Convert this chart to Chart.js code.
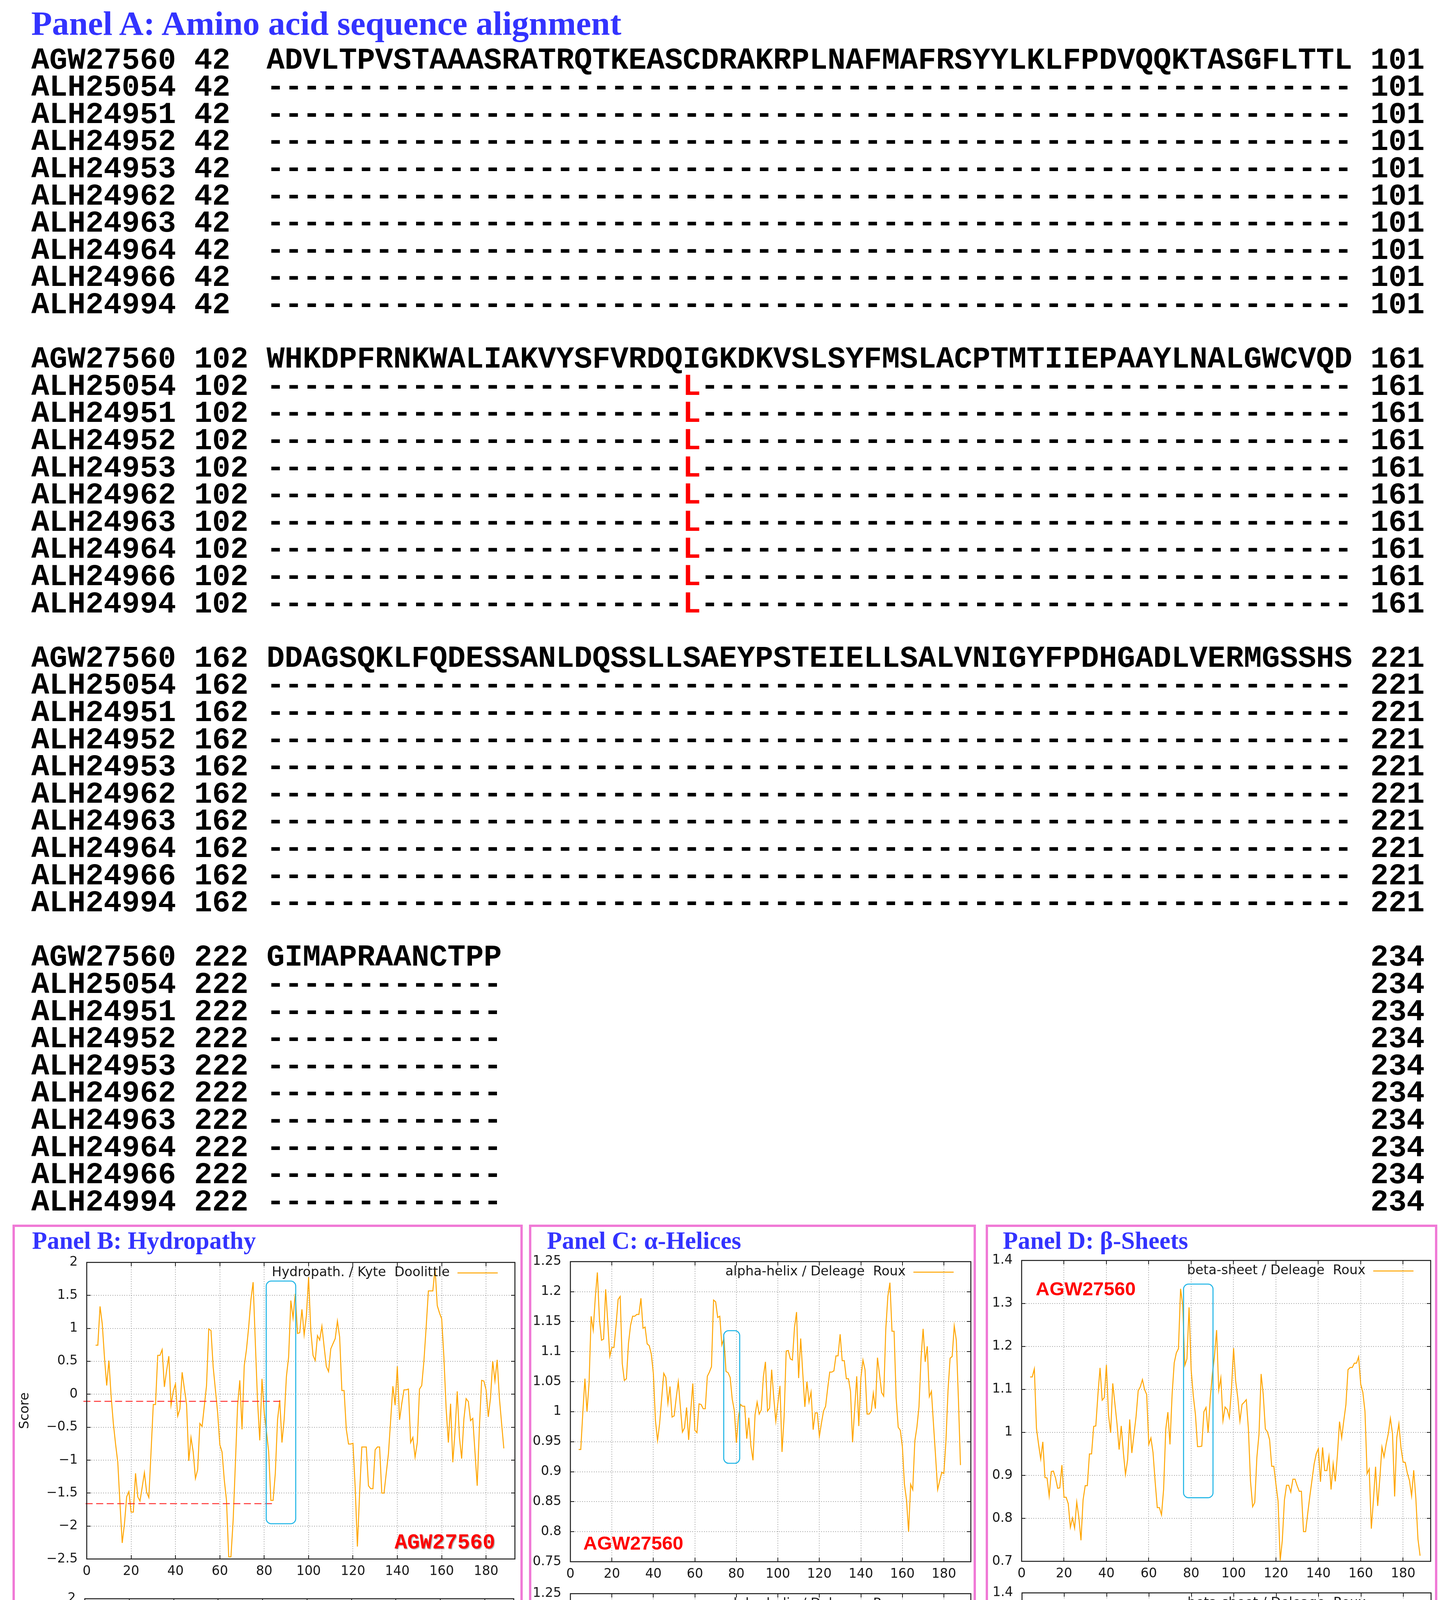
<!DOCTYPE html>
<html>
<head>
<meta charset="utf-8">
<script src="https://cdn.jsdelivr.net/npm/chart.js@4.4.1/dist/chart.umd.min.js"></script>
<style>
  html, body { margin: 0; padding: 0; background: #fff; }
  body { width: 3691px; height: 4986px; position: relative; overflow: hidden; }
  .txt { position: absolute; white-space: pre; margin: 0; line-height: 1; }
  .panel { position: absolute; box-sizing: border-box; border: 6px solid #f07ad6; }
  canvas { position: absolute; }
</style>
</head>
<body>
<script>
// ---------------------------------------------------------------------------
// Panel A: alignment text
// ---------------------------------------------------------------------------
const alnNames = ['AGW27560', 'ALH25054', 'ALH24951', 'ALH24952', 'ALH24953',
                  'ALH24962', 'ALH24963', 'ALH24964', 'ALH24966', 'ALH24994'];
const alnStarts = [42, 102, 162, 222];
const alnEnds = [101, 161, 221, 234];
const refBlocks = [
    'ADVLTPVSTAAASRATRQTKEASCDRAKRPLNAFMAFRSYYLKLFPDVQQKTASGFLTTL',
    'WHKDPFRNKWALIAKVYSFVRDQIGKDKVSLSYFMSLACPTMTIIEPAAYLNALGWCVQD',
    'DDAGSQKLFQDESSANLDQSSLLSAEYPSTEIELLSALVNIGYFPDHGADLVERMGSSHS',
    'GIMAPRAANCTPP'
];
// the one substitution shared by all ALH sequences (block 2, column 24)
const variantSite = { block: 1, col: 23, residue: 'L' };

// ---------------------------------------------------------------------------
// Profile values (window 9); first point sits at position 4
// ---------------------------------------------------------------------------
const FIRST_POS = 4;

const hydroAGW = [
    0.744, 0.744, 1.333, 1.067, 0.556, 0.133, 0.511, -0.033, -0.444, -0.756,
    -1.033, -1.667, -2.256, -1.967, -1.556, -1.478, -1.789, -1.789, -1.2, -1.556,
    -1.622, -1.411, -1.189, -1.489, -1.567, -0.867, -0.156, -0.156, 0.589, 0.589,
    0.678, 0.111, 0.356, 0.578, -0.167, 0.044, 0.156, -0.333, -0.222, 0.333,
    0.089, -0.156, -1.011, -0.656, -0.878, -1.278, -1.144, -0.444, -0.489, -0.178,
    0.133, 0.989, 0.967, 0.411, 0.067, -0.278, -0.767, -0.878, -1.3, -1.611,
    -2.467, -2.467, -1.911, -1.056, -0.167, 0.211, -0.533, 0.433, 0.678, 1.022,
    1.433, 1.7, 0.778, -0.111, -0.7, 0.233, -0.278, -0.567, -0.867, -1.611,
    -1.611, -1.2, -0.389, -0.089, -0.733, -0.378, 0.267, 0.567, 1.422, 1.156,
    1.522, 0.922, 0.933, 1.289, 0.9, 1.189, 1.778, 0.967, 0.589, 0.511,
    0.889, 0.822, 1.033, 0.722, 0.422, 0.344, 0.689, 0.767, 0.844, 1.111,
    0.867, 0.056, 0.056, -0.533, -0.756, -0.756, -0.744, -1.411, -2.311, -1.5,
    -0.8, -0.8, -0.8, -1.389, -1.433, -1.433, -0.844, -0.8, -0.8, -1.5,
    -1.5, -1.2, -0.9, -0.389, 0.122, -0.167, 0.422, -0.389, -0.144, 0.067,
    0.067, 0.078, -0.733, -0.656, -0.956, -0.733, 0.078, 0.133, 0.511, 1.022,
    1.567, 1.567, 1.567, 1.911, 1.344, 1.233, 1.144, 0.556, -0.222, -0.733,
    -0.144, -1.033, -0.567, 0.044, -0.656, -0.978, -0.378, -0.067, -0.111, -0.4,
    -0.367, -0.878, -1.389, -0.5, 0.211, 0.2, 0.067, -0.344, -0.056, 0.5,
    0.2, 0.522, -0.056, -0.444, -0.822
];
const hydroALH = [
    0.744, 0.744, 1.333, 1.067, 0.556, 0.133, 0.511, -0.033, -0.444, -0.756,
    -1.033, -1.667, -2.256, -1.967, -1.556, -1.478, -1.789, -1.789, -1.2, -1.556,
    -1.622, -1.411, -1.189, -1.489, -1.567, -0.867, -0.156, -0.156, 0.589, 0.589,
    0.678, 0.111, 0.356, 0.578, -0.167, 0.044, 0.156, -0.333, -0.222, 0.333,
    0.089, -0.156, -1.011, -0.656, -0.878, -1.278, -1.144, -0.444, -0.489, -0.178,
    0.133, 0.989, 0.967, 0.411, 0.067, -0.278, -0.767, -0.878, -1.3, -1.611,
    -2.467, -2.467, -1.911, -1.056, -0.167, 0.211, -0.533, 0.433, 0.678, 1.022,
    1.433, 1.7, 0.778, -0.111, -0.7, 0.156, -0.356, -0.644, -0.944, -1.689,
    -1.689, -1.278, -0.467, -0.167, -0.733, -0.378, 0.267, 0.567, 1.422, 1.156,
    1.522, 0.922, 0.933, 1.289, 0.9, 1.189, 1.778, 0.967, 0.589, 0.511,
    0.889, 0.822, 1.033, 0.722, 0.422, 0.344, 0.689, 0.767, 0.844, 1.111,
    0.867, 0.056, 0.056, -0.533, -0.756, -0.756, -0.744, -1.411, -2.311, -1.5,
    -0.8, -0.8, -0.8, -1.389, -1.433, -1.433, -0.844, -0.8, -0.8, -1.5,
    -1.5, -1.2, -0.9, -0.389, 0.122, -0.167, 0.422, -0.389, -0.144, 0.067,
    0.067, 0.078, -0.733, -0.656, -0.956, -0.733, 0.078, 0.133, 0.511, 1.022,
    1.567, 1.567, 1.567, 1.911, 1.344, 1.233, 1.144, 0.556, -0.222, -0.733,
    -0.144, -1.033, -0.567, 0.044, -0.656, -0.978, -0.378, -0.067, -0.111, -0.4,
    -0.367, -0.878, -1.389, -0.5, 0.211, 0.2, 0.067, -0.344, -0.056, 0.5,
    0.2, 0.522, -0.056, -0.444, -0.822
];

const helixAGW = [
    0.937, 0.937, 0.999, 1.055, 1.000, 1.048, 1.159, 1.136, 1.190, 1.232,
    1.154, 1.119, 1.121, 1.204, 1.150, 1.092, 1.107, 1.107, 1.144, 1.187,
    1.192, 1.080, 1.052, 1.055, 1.114, 1.144, 1.159, 1.159, 1.162, 1.162,
    1.189, 1.139, 1.141, 1.113, 1.110, 1.096, 1.063, 0.985, 0.952, 0.980,
    1.022, 1.064, 1.057, 1.014, 1.042, 0.991, 0.993, 1.023, 1.050, 1.008,
    0.966, 0.973, 1.007, 0.953, 1.001, 1.047, 0.969, 0.965, 1.013, 1.012,
    1.005, 1.005, 1.059, 1.066, 1.075, 1.186, 1.183, 1.157, 1.159, 1.111,
    1.122, 1.067, 1.065, 1.057, 1.021, 1.002, 0.948, 0.991, 1.012, 1.009,
    1.009, 0.955, 0.990, 0.943, 0.919, 0.995, 1.016, 0.996, 1.003, 1.058,
    1.083, 1.001, 1.006, 1.070, 1.024, 0.984, 1.014, 1.043, 0.933, 0.991,
    1.101, 1.102, 1.088, 1.086, 1.140, 1.166, 1.056, 1.122, 1.064, 1.008,
    1.050, 1.016, 1.033, 0.970, 0.998, 0.998, 0.959, 0.981, 1.001, 1.009,
    1.039, 1.066, 1.066, 1.068, 1.093, 1.093, 1.129, 1.085, 1.085, 1.055,
    1.055, 1.034, 0.949, 1.004, 1.059, 0.976, 1.056, 1.086, 1.070, 0.996,
    0.996, 1.001, 1.031, 1.005, 1.090, 1.062, 1.032, 1.026, 1.137, 1.192,
    1.215, 1.134, 1.134, 1.023, 0.974, 0.969, 0.942, 0.879, 0.853, 0.800,
    0.879, 0.870, 0.951, 0.974, 1.008, 1.089, 1.138, 1.083, 1.109, 1.025,
    1.034, 0.979, 0.926, 0.870, 0.885, 0.899, 0.897, 0.951, 1.035, 1.089,
    1.092, 1.143, 1.119, 1.022, 0.911
];
const helixALH = [
    0.937, 0.937, 0.999, 1.055, 1.000, 1.048, 1.159, 1.136, 1.190, 1.232,
    1.154, 1.119, 1.121, 1.204, 1.150, 1.092, 1.107, 1.107, 1.144, 1.187,
    1.192, 1.080, 1.052, 1.055, 1.114, 1.144, 1.159, 1.159, 1.162, 1.162,
    1.189, 1.139, 1.141, 1.113, 1.110, 1.096, 1.063, 0.985, 0.952, 0.980,
    1.022, 1.064, 1.057, 1.014, 1.042, 0.991, 0.993, 1.023, 1.050, 1.008,
    0.966, 0.973, 1.007, 0.953, 1.001, 1.047, 0.969, 0.965, 1.013, 1.012,
    1.005, 1.005, 1.059, 1.066, 1.075, 1.186, 1.183, 1.157, 1.159, 1.111,
    1.122, 1.067, 1.065, 1.057, 1.021, 1.028, 0.974, 1.017, 1.038, 1.035,
    1.035, 0.981, 1.016, 0.969, 0.919, 0.995, 1.016, 0.996, 1.003, 1.058,
    1.083, 1.001, 1.006, 1.070, 1.024, 0.984, 1.014, 1.043, 0.933, 0.991,
    1.101, 1.102, 1.088, 1.086, 1.140, 1.166, 1.056, 1.122, 1.064, 1.008,
    1.050, 1.016, 1.033, 0.970, 0.998, 0.998, 0.959, 0.981, 1.001, 1.009,
    1.039, 1.066, 1.066, 1.068, 1.093, 1.093, 1.129, 1.085, 1.085, 1.055,
    1.055, 1.034, 0.949, 1.004, 1.059, 0.976, 1.056, 1.086, 1.070, 0.996,
    0.996, 1.001, 1.031, 1.005, 1.090, 1.062, 1.032, 1.026, 1.137, 1.192,
    1.215, 1.134, 1.134, 1.023, 0.974, 0.969, 0.942, 0.879, 0.853, 0.800,
    0.879, 0.870, 0.951, 0.974, 1.008, 1.089, 1.138, 1.083, 1.109, 1.025,
    1.034, 0.979, 0.926, 0.870, 0.885, 0.899, 0.897, 0.951, 1.035, 1.089,
    1.092, 1.143, 1.119, 1.022, 0.911
];

const sheetAGW = [
    1.129, 1.129, 1.148, 1.009, 0.972, 0.938, 0.978, 0.895, 0.894, 0.852,
    0.909, 0.910, 0.894, 0.870, 0.871, 0.924, 0.849, 0.849, 0.834, 0.779,
    0.801, 0.777, 0.838, 0.802, 0.749, 0.843, 0.876, 0.876, 0.950, 0.950,
    1.014, 1.015, 1.088, 1.150, 1.075, 1.081, 1.157, 1.041, 0.999, 1.114,
    1.067, 1.020, 0.960, 1.015, 0.954, 0.902, 0.936, 1.030, 0.952, 0.995,
    1.037, 1.097, 1.106, 1.123, 1.100, 1.088, 0.972, 0.987, 0.953, 0.885,
    0.825, 0.825, 0.808, 0.868, 1.007, 1.047, 0.972, 1.088, 1.162, 1.185,
    1.195, 1.334, 1.296, 1.156, 1.171, 1.291, 1.145, 1.085, 1.042, 0.967,
    0.967, 0.968, 1.048, 1.058, 0.999, 1.080, 1.135, 1.178, 1.238, 1.098,
    1.127, 1.027, 1.059, 1.053, 1.034, 1.099, 1.196, 1.119, 1.080, 1.026,
    1.065, 1.070, 1.076, 1.008, 0.886, 0.827, 0.837, 0.942, 0.996, 1.136,
    1.088, 1.008, 1.001, 0.983, 0.921, 0.921, 0.879, 0.840, 0.702, 0.749,
    0.843, 0.877, 0.877, 0.861, 0.891, 0.891, 0.876, 0.863, 0.863, 0.769,
    0.769, 0.812, 0.852, 0.889, 0.926, 0.950, 0.962, 0.885, 0.965, 0.911,
    0.911, 0.944, 0.867, 0.927, 0.886, 0.948, 1.025, 0.987, 1.027, 1.064,
    1.146, 1.151, 1.151, 1.161, 1.161, 1.176, 1.112, 1.093, 1.049, 0.904,
    0.915, 0.776, 0.843, 0.920, 0.829, 0.892, 0.966, 0.943, 0.973, 0.997,
    1.033, 0.996, 0.851, 0.988, 1.020, 0.964, 0.931, 0.930, 0.905, 0.888,
    0.852, 0.912, 0.847, 0.752, 0.713
];
const sheetALH = [
    1.129, 1.129, 1.148, 1.009, 0.972, 0.938, 0.978, 0.895, 0.894, 0.852,
    0.909, 0.910, 0.894, 0.870, 0.871, 0.924, 0.849, 0.849, 0.834, 0.779,
    0.801, 0.777, 0.838, 0.802, 0.749, 0.843, 0.876, 0.876, 0.950, 0.950,
    1.014, 1.015, 1.088, 1.150, 1.075, 1.081, 1.157, 1.041, 0.999, 1.114,
    1.067, 1.020, 0.960, 1.015, 0.954, 0.902, 0.936, 1.030, 0.952, 0.995,
    1.037, 1.097, 1.106, 1.123, 1.100, 1.088, 0.972, 0.987, 0.953, 0.885,
    0.825, 0.825, 0.808, 0.868, 1.007, 1.047, 0.972, 1.088, 1.162, 1.185,
    1.195, 1.334, 1.296, 1.156, 1.171, 1.231, 1.086, 1.025, 0.982, 0.907,
    0.907, 0.908, 0.988, 0.998, 0.999, 1.080, 1.135, 1.178, 1.238, 1.098,
    1.127, 1.027, 1.059, 1.053, 1.034, 1.099, 1.196, 1.119, 1.080, 1.026,
    1.065, 1.070, 1.076, 1.008, 0.886, 0.827, 0.837, 0.942, 0.996, 1.136,
    1.088, 1.008, 1.001, 0.983, 0.921, 0.921, 0.879, 0.840, 0.702, 0.749,
    0.843, 0.877, 0.877, 0.861, 0.891, 0.891, 0.876, 0.863, 0.863, 0.769,
    0.769, 0.812, 0.852, 0.889, 0.926, 0.950, 0.962, 0.885, 0.965, 0.911,
    0.911, 0.944, 0.867, 0.927, 0.886, 0.948, 1.025, 0.987, 1.027, 1.064,
    1.146, 1.151, 1.151, 1.161, 1.161, 1.176, 1.112, 1.093, 1.049, 0.904,
    0.915, 0.776, 0.843, 0.920, 0.829, 0.892, 0.966, 0.943, 0.973, 0.997,
    1.033, 0.996, 0.851, 0.988, 1.020, 0.964, 0.931, 0.930, 0.905, 0.888,
    0.852, 0.912, 0.847, 0.752, 0.713
];

// ---------------------------------------------------------------------------
// Tick values and labels
// ---------------------------------------------------------------------------
const xTicks = [0, 20, 40, 60, 80, 100, 120, 140, 160, 180];
const xTickLabels = ['0', '20', '40', '60', '80', '100', '120', '140', '160', '180'];
const hydroTicks = [-2.5, -2, -1.5, -1, -0.5, 0, 0.5, 1, 1.5, 2];
const hydroTickLabels = ['\u22122.5', '\u22122', '\u22121.5', '\u22121', '\u22120.5', '0', '0.5', '1', '1.5', '2'];
const helixTicks = [0.75, 0.8, 0.85, 0.9, 0.95, 1, 1.05, 1.1, 1.15, 1.2, 1.25];
const helixTickLabels = ['0.75', '0.8', '0.85', '0.9', '0.95', '1', '1.05', '1.1', '1.15', '1.2', '1.25'];
const sheetTicks = [0.7, 0.8, 0.9, 1, 1.1, 1.2, 1.3, 1.4];
const sheetTickLabels = ['0.7', '0.8', '0.9', '1', '1.1', '1.2', '1.3', '1.4'];

// ---------------------------------------------------------------------------
// Styling / layout
// ---------------------------------------------------------------------------
const BLUE = '#3333ff';
const RED = '#ff0000';
const LINE_COLOR = '#ffa500';
const GRID_COLOR = '#a3a3a3';
const BOX_COLOR = '#1cb4e6';
const AXIS_FONT = '"DejaVu Sans", "Liberation Sans", sans-serif';
const MONO = '"Courier New", "Liberation Mono", monospace';
const SERIF = '"Times New Roman", "Liberation Serif", serif';
const SANS = 'Arial, "Liberation Sans", sans-serif';

const AXIS_W = 200;   // room left of the plot (tick labels + "Score")
const AXIS_H = 110;   // room below the plot (tick labels + "Position")
const PAD_T = 40;
const PAD_R = 28;

const yScales = {
    hydro: { min: -2.5, max: 2, ticks: hydroTicks, labels: hydroTickLabels },
    helix: { min: 0.75, max: 1.25, ticks: helixTicks, labels: helixTickLabels },
    sheet: { min: 0.7, max: 1.4, ticks: sheetTicks, labels: sheetTickLabels }
};

const chartSpecs = [
    { values: hydroAGW, scale: 'hydro', plot: [222, 3229, 1318, 3991], legend: 'Hydropath. / Kyte  Doolittle',
      score: true, position: false, rect: [80.9, 94.2, -1.965, 1.717],
      guides: [{ y: -0.108, x0: -1.5, x1: 87.3 }, { y: -1.66, x0: -0.5, x1: 83.9 }] },
    { values: hydroALH, scale: 'hydro', plot: [217, 4090, 1315, 4854], legend: 'Hydropath. / Kyte  Doolittle',
      score: true, position: true, rect: [81.0, 94.7, -1.932, 1.757],
      guides: [{ y: -0.174, x0: -1.0, x1: 87.2 }, { y: -1.734, x0: -0.6, x1: 83.9 }] },
    { values: helixAGW, scale: 'helix', plot: [1460, 3227, 2485, 3998], legend: 'alpha-helix / Deleage  Roux',
      score: false, position: false, rect: [73.9, 81.6, 0.914, 1.135], guides: [] },
    { values: helixALH, scale: 'helix', plot: [1460, 4077, 2485, 4851], legend: 'alpha-helix / Deleage  Roux',
      score: false, position: true, rect: [73.9, 81.6, 0.937, 1.159], guides: [] },
    { values: sheetAGW, scale: 'sheet', plot: [2615, 3224, 3662, 3997], legend: 'beta-sheet / Deleage  Roux',
      score: false, position: false, rect: [76.4, 90.3, 0.848, 1.345], guides: [] },
    { values: sheetALH, scale: 'sheet', plot: [2616, 4075, 3663, 4849], legend: 'beta-sheet / Deleage  Roux',
      score: false, position: true, rect: [76.2, 90.0, 0.836, 1.333], guides: [] }
];

// ---------------------------------------------------------------------------
// helpers
// ---------------------------------------------------------------------------
function placeText(html, x, baseline, css) {
    const el = document.createElement('div');
    el.className = 'txt';
    el.style.cssText += css;
    el.innerHTML = html;
    // zero-size marker sitting on the baseline, so we can line the text up
    const mark = document.createElement('span');
    mark.style.cssText = 'display:inline-block;width:0;height:0;vertical-align:baseline;';
    el.appendChild(mark);
    el.style.left = x + 'px';
    el.style.top = '0px';
    document.body.appendChild(el);
    const off = mark.getBoundingClientRect().top - el.getBoundingClientRect().top;
    el.style.top = (baseline - off) + 'px';
    return el;
}

function addPanel(l, t, r, b) {
    const d = document.createElement('div');
    d.className = 'panel';
    d.style.left = l + 'px';
    d.style.top = t + 'px';
    d.style.width = (r - l) + 'px';
    d.style.height = (b - t) + 'px';
    document.body.appendChild(d);
}

const near = (a, b) => Math.abs(a - b) < 1e-9;

function gnuplotFrame(spec) {
    const ys = yScales[spec.scale];
    return {
        id: 'gnuplotFrame',
        beforeDatasetsDraw(chart) {
            const { ctx, chartArea: a, scales: { x, y } } = chart;
            ctx.save();
            ctx.strokeStyle = GRID_COLOR;
            ctx.lineWidth = 2;
            ctx.setLineDash([2, 4]);
            ctx.beginPath();
            xTicks.forEach(v => {
                if (near(v, x.min) || near(v, x.max)) return;
                const px = Math.round(x.getPixelForValue(v));
                ctx.moveTo(px, a.top);
                ctx.lineTo(px, a.bottom);
            });
            ys.ticks.forEach(v => {
                if (near(v, y.min) || near(v, y.max)) return;
                const py = Math.round(y.getPixelForValue(v));
                ctx.moveTo(a.left, py);
                ctx.lineTo(a.right, py);
            });
            ctx.stroke();
            ctx.restore();
        },
        afterDatasetsDraw(chart) {
            const { ctx, chartArea: a, scales: { x, y } } = chart;
            ctx.save();

            // red dashed guides
            ctx.strokeStyle = '#ff2020';
            ctx.lineWidth = 2.2;
            ctx.setLineDash([18, 9]);
            spec.guides.forEach(g => {
                const py = y.getPixelForValue(g.y);
                ctx.beginPath();
                ctx.moveTo(x.getPixelForValue(g.x0), py);
                ctx.lineTo(x.getPixelForValue(g.x1), py);
                ctx.stroke();
            });
            ctx.setLineDash([]);

            // cyan box round the substitution window
            const [rx0, rx1, ry0, ry1] = spec.rect;
            const bx = x.getPixelForValue(rx0), by = y.getPixelForValue(ry1);
            ctx.strokeStyle = BOX_COLOR;
            ctx.lineWidth = 2.6;
            ctx.beginPath();
            ctx.roundRect(bx, by, x.getPixelForValue(rx1) - bx, y.getPixelForValue(ry0) - by, 13);
            ctx.stroke();

            // frame and inward ticks on all four sides
            ctx.strokeStyle = '#1a1a1a';
            ctx.lineWidth = 2.5;
            ctx.strokeRect(a.left, a.top, a.right - a.left, a.bottom - a.top);
            ctx.lineWidth = 2;
            ctx.beginPath();
            xTicks.forEach(v => {
                const px = Math.round(x.getPixelForValue(v));
                ctx.moveTo(px, a.bottom); ctx.lineTo(px, a.bottom - 10);
                ctx.moveTo(px, a.top); ctx.lineTo(px, a.top + 10);
            });
            ys.ticks.forEach(v => {
                const py = Math.round(y.getPixelForValue(v));
                ctx.moveTo(a.left, py); ctx.lineTo(a.left + 10, py);
                ctx.moveTo(a.right, py); ctx.lineTo(a.right - 10, py);
            });
            ctx.stroke();

            // key
            ctx.fillStyle = '#1a1a1a';
            ctx.font = '33.5px ' + AXIS_FONT;
            ctx.textAlign = 'right';
            ctx.textBaseline = 'middle';
            ctx.fillText(spec.legend, a.right - 167, a.top + 26);
            ctx.strokeStyle = LINE_COLOR;
            ctx.lineWidth = 2.5;
            ctx.beginPath();
            ctx.moveTo(a.right - 147, a.top + 27);
            ctx.lineTo(a.right - 44, a.top + 27);
            ctx.stroke();

            // axis titles
            ctx.fillStyle = '#1a1a1a';
            ctx.textAlign = 'center';
            ctx.textBaseline = 'middle';
            if (spec.score) {
                ctx.save();
                ctx.translate(a.left - 158, (a.top + a.bottom) / 2);
                ctx.rotate(-Math.PI / 2);
                ctx.fillText('Score', 0, 0);
                ctx.restore();
            }
            if (spec.position) {
                ctx.fillText('Position', (a.left + a.right) / 2, a.bottom + 83);
            }
            ctx.restore();
        }
    };
}

function buildChart(spec) {
    const [l, t, r, b] = spec.plot;
    const ys = yScales[spec.scale];
    const canvas = document.createElement('canvas');
    const w = (r - l) + AXIS_W + PAD_R;
    const h = (b - t) + PAD_T + AXIS_H;
    canvas.width = w;
    canvas.height = h;
    canvas.style.width = w + 'px';
    canvas.style.height = h + 'px';
    canvas.style.left = (l - AXIS_W) + 'px';
    canvas.style.top = (t - PAD_T) + 'px';
    document.body.appendChild(canvas);

    const tickFont = { family: AXIS_FONT, size: 33 };
    new Chart(canvas.getContext('2d'), {
        type: 'line',
        data: {
            datasets: [{
                data: spec.values.map((v, i) => ({ x: FIRST_POS + i, y: v })),
                borderColor: LINE_COLOR,
                borderWidth: 2.5,
                pointRadius: 0,
                tension: 0,
                fill: false
            }]
        },
        options: {
            responsive: false,
            animation: false,
            devicePixelRatio: 1,
            layout: { padding: { left: 0, top: PAD_T, right: PAD_R, bottom: 0 } },
            plugins: { legend: { display: false }, tooltip: { enabled: false } },
            scales: {
                x: {
                    type: 'linear', min: 0, max: 193,
                    grid: { display: false, drawTicks: false },
                    border: { display: false },
                    afterBuildTicks: s => { s.ticks = xTicks.map(v => ({ value: v })); },
                    afterFit: s => { s.height = AXIS_H; },
                    ticks: {
                        font: tickFont, color: '#1a1a1a', padding: 13,
                        autoSkip: false, maxRotation: 0,
                        callback: (v, i) => xTickLabels[i]
                    }
                },
                y: {
                    type: 'linear', min: ys.min, max: ys.max,
                    grid: { display: false, drawTicks: false },
                    border: { display: false },
                    afterBuildTicks: s => { s.ticks = ys.ticks.map(v => ({ value: v })); },
                    afterFit: s => { s.width = AXIS_W; },
                    ticks: {
                        font: tickFont, color: '#1a1a1a', padding: 23,
                        autoSkip: false,
                        callback: (v, i) => ys.labels[i]
                    }
                }
            }
        },
        plugins: [gnuplotFrame(spec)]
    });
}

// ---------------------------------------------------------------------------
// Panel A
// ---------------------------------------------------------------------------
placeText('Panel A: Amino acid sequence alignment', 80, 89,
    `font: bold 87px ${SERIF}; color: ${BLUE};`);

const ROW_PITCH = 69.6;
const FIRST_BASELINE = 175.5;
refBlocks.forEach((ref, bi) => {
    alnNames.forEach((name, ni) => {
        let seq;
        if (ni === 0) {
            seq = ref;
        } else {
            const dashes = '-'.repeat(ref.length).split('');
            if (bi === variantSite.block) {
                dashes[variantSite.col] = `<span style="color:${RED}">${variantSite.residue}</span>`;
            }
            seq = dashes.join('');
        }
        const line = name + ' ' + String(alnStarts[bi]).padEnd(3) + ' ' + seq +
            ' '.repeat(60 - ref.length) + ' ' + alnEnds[bi];
        const row = bi * 11 + ni;
        placeText(line, 80, FIRST_BASELINE + row * ROW_PITCH,
            `font: bold 77.2px ${MONO}; color: #000;`);
    });
});

// ---------------------------------------------------------------------------
// Panels B, C, D
// ---------------------------------------------------------------------------
addPanel(32, 3135, 1338, 4964);
addPanel(1354, 3135, 2498, 4962);
addPanel(2523, 3135, 3679, 4962);

placeText('Panel B: Hydropathy', 82, 3197, `font: bold 63px ${SERIF}; color: ${BLUE};`);
placeText('Panel C: \u03b1-Helices', 1400, 3197, `font: bold 63px ${SERIF}; color: ${BLUE};`);
placeText('Panel D: \u03b2-Sheets', 2567, 3197, `font: bold 63px ${SERIF}; color: ${BLUE};`);

chartSpecs.forEach(buildChart);

// sequence tags
const tagShadow = 'text-shadow: 2px 2px 2px rgba(0,0,0,0.35);';
placeText(alnNames[0], 1010, 3964, `font: bold 53.6px ${MONO}; color: ${RED}; ${tagShadow}`);
placeText(alnNames[0], 1493, 3967, `font: bold 49px ${SANS}; color: ${RED};`);
placeText(alnNames[0], 2651, 3316, `font: bold 49px ${SANS}; color: ${RED};`);
placeText(alnNames.slice(1).join(' '), 627, 4841,
    `font: bold 53.6px ${MONO}; color: ${RED}; ${tagShadow}`);
</script>
</body>
</html>
